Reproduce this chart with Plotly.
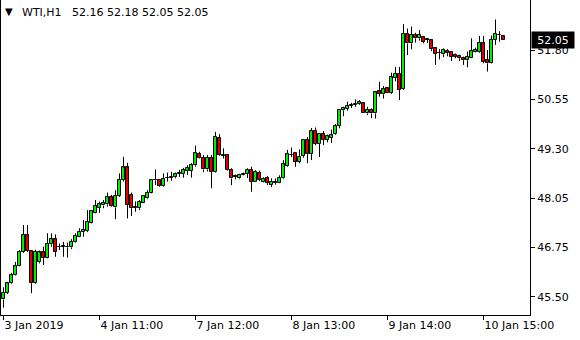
import plotly.graph_objects as go

# OHLC data (H1 bars)
opens = [45.43,45.60,45.84,46.05,46.28,46.65,47.08,46.67,45.84,46.38,
         46.63,46.50,46.84,46.97,46.77,46.78,46.77,46.76,46.90,47.03,
         47.15,47.19,47.39,47.65,47.77,47.83,47.86,48.04,47.78,48.07,
         48.48,48.80,48.10,47.78,47.76,47.90,48.01,48.16,48.47,48.48,
         48.33,48.53,48.54,48.55,48.64,48.63,48.72,48.72,48.86,49.14,
         49.05,48.75,49.05,48.69,49.55,49.11,49.12,48.74,48.57,48.52,
         48.62,48.63,48.74,48.44,48.67,48.44,48.54,48.35,48.41,48.41,
         48.52,48.85,49.12,49.16,48.95,49.09,49.50,49.14,49.73,49.40,
         49.65,49.50,49.56,49.65,49.86,50.26,50.29,50.38,50.40,50.42,
         50.44,50.18,50.28,50.18,50.76,50.67,50.82,50.71,51.09,51.20,
         50.80,52.21,51.97,52.18,52.10,52.14,52.07,52.05,51.84,51.73,
         51.69,51.78,51.76,51.67,51.64,51.60,51.54,51.60,51.76,51.76,
         51.99,51.54,51.46,52.06,52.18,52.16]
highs = [45.74,45.88,46.11,46.39,46.69,47.33,47.33,46.67,46.70,46.68,
         46.78,47.12,47.12,47.09,46.86,46.90,46.88,46.97,47.12,47.25,
         47.46,47.71,47.71,47.97,47.93,47.97,48.16,48.10,48.22,48.65,
         49.07,48.92,48.16,47.93,47.97,48.10,48.22,48.50,48.75,48.50,
         48.65,48.67,48.69,48.67,48.74,48.79,48.86,48.91,49.36,49.20,
         49.12,49.12,49.12,49.71,49.65,49.29,49.14,48.78,48.62,48.64,
         48.67,48.78,48.82,48.73,48.72,48.55,48.58,48.52,48.52,48.60,
         48.99,49.25,49.31,49.17,49.26,49.52,49.58,49.81,49.82,49.65,
         49.73,49.64,49.77,49.91,50.29,50.35,50.48,50.45,50.54,50.52,
         50.45,50.35,50.31,50.74,50.99,50.88,50.85,51.22,51.37,51.37,
         52.46,52.35,52.40,52.24,52.31,52.16,52.08,52.06,51.84,51.82,
         51.84,51.82,51.76,51.71,51.68,51.63,51.76,52.10,51.86,52.16,
         52.16,51.80,52.17,52.58,52.28,52.18]
lows = [45.22,45.57,45.82,46.04,46.27,46.62,46.64,45.59,45.82,46.35,
        46.31,46.48,46.78,46.52,46.69,46.52,46.50,46.72,46.88,47.02,
        47.03,47.15,47.37,47.63,47.64,47.76,47.80,47.80,47.48,48.05,
        48.44,47.50,47.56,47.67,47.71,47.89,47.99,48.14,48.35,48.31,
        48.31,48.44,48.46,48.52,48.56,48.54,48.61,48.54,48.82,49.02,
        48.68,48.70,48.27,48.67,49.10,49.03,48.72,48.35,48.50,48.50,
        48.60,48.53,48.18,48.43,48.45,48.42,48.35,48.30,48.36,48.40,
        48.50,48.82,49.07,48.82,48.91,49.05,48.91,48.99,49.37,49.07,
        49.37,49.44,49.43,49.63,49.80,50.11,50.25,50.32,50.35,50.40,
        50.19,50.14,50.06,50.05,50.61,50.56,50.70,50.68,51.00,50.52,
        50.78,51.67,51.82,51.99,52.04,51.97,51.98,51.77,51.42,51.56,
        51.62,51.64,51.52,51.59,51.52,51.42,51.36,51.59,51.74,51.73,
        51.46,51.25,51.45,51.93,52.01,52.05]
closes = [45.60,45.84,46.05,46.28,46.65,47.08,46.68,45.86,46.65,46.63,
          46.50,46.85,46.97,46.65,46.78,46.79,46.76,46.90,47.05,47.16,
          47.20,47.41,47.69,47.82,47.86,47.89,48.04,47.82,48.07,48.48,
          48.80,47.84,47.76,47.77,47.93,48.07,48.16,48.48,48.49,48.33,
          48.51,48.54,48.55,48.63,48.65,48.74,48.78,48.86,49.16,49.03,
          48.75,49.05,48.69,49.59,49.12,49.10,48.74,48.52,48.56,48.61,
          48.63,48.74,48.44,48.69,48.48,48.51,48.40,48.44,48.42,48.53,
          48.88,49.14,49.13,48.95,49.07,49.50,49.14,49.73,49.40,49.65,
          49.50,49.60,49.62,49.86,50.27,50.33,50.37,50.40,50.42,50.47,
          50.20,50.28,50.18,50.72,50.68,50.80,50.71,51.10,51.20,50.78,
          52.21,51.97,52.18,52.10,52.18,52.01,52.06,51.82,51.71,51.72,
          51.80,51.72,51.63,51.63,51.59,51.54,51.63,51.77,51.80,51.99,
          51.50,51.46,52.06,52.21,52.19,52.05]

tick_idx = [0, 24, 48, 72, 96, 120]
tick_labels = ["3 Jan 2019", "4 Jan 11:00", "7 Jan 12:00", "8 Jan 13:00", "9 Jan 14:00", "10 Jan 15:00"]
price_ticks = [45.50, 46.76, 48.02, 49.28, 50.54, 51.80]
price_labels = ["45.50", "46.75", "48.05", "49.30", "50.55", "51.80"]
symbol = "WTI,H1"
last_price = 52.05

UP = "#00ee00"
DOWN = "#e00000"
FONT = "DejaVu Sans"

n = len(opens)
xs = list(range(n))

# wicks split into upper / lower parts so they don't cross the bodies
wx, wy = [], []
for i in xs:
    top = max(opens[i], closes[i])
    bot = min(opens[i], closes[i])
    wx += [i, i, None, i, i, None]
    wy += [highs[i], top, None, bot, lows[i], None]

base = [min(o, c) for o, c in zip(opens, closes)]
height = [max(abs(c - o), 0.006) for o, c in zip(opens, closes)]
colors = [UP if c >= o else DOWN for o, c in zip(opens, closes)]

fig = go.Figure()
fig.add_trace(go.Scatter(x=wx, y=wy, mode="lines",
                         line=dict(color="black", width=1),
                         hoverinfo="skip", showlegend=False))
fig.add_trace(go.Bar(x=xs, y=height, base=base, width=0.58,
                     marker=dict(color=colors, line=dict(color="black", width=1)),
                     hoverinfo="skip", showlegend=False))

fig.update_layout(
    width=580, height=340,
    margin=dict(l=1, r=50, t=0, b=25),
    paper_bgcolor="white", plot_bgcolor="white",
    bargap=0, showlegend=False,
    font=dict(family=FONT, size=11, color="black"),
    xaxis=dict(range=[-0.625, 131.625], showgrid=False, zeroline=False,
               showline=True, linecolor="black", linewidth=1,
               ticks="outside", ticklen=4, tickcolor="black",
               tickvals=tick_idx, ticktext=tick_labels,
               ticklabelposition="outside right",
               tickfont=dict(family=FONT, size=11, color="black"),
               fixedrange=True),
    yaxis=dict(range=[45.033, 53.077], side="right", showgrid=False, zeroline=False,
               showline=True, mirror=True, linecolor="black", linewidth=1,
               ticks="outside", ticklen=4, tickcolor="black",
               tickvals=price_ticks, ticktext=price_labels,
               tickfont=dict(family=FONT, size=11, color="black"),
               fixedrange=True),
    annotations=[
        dict(xref="paper", yref="paper", x=0, y=1, xanchor="left", yanchor="middle",
             xshift=2, yshift=-11, text="▼", showarrow=False,
             font=dict(family=FONT, size=10, color="black")),
        dict(xref="paper", yref="paper", x=0, y=1, xanchor="left", yanchor="middle",
             xshift=19, yshift=-12, text=symbol, showarrow=False,
             font=dict(family=FONT, size=11, color="black")),
        dict(xref="paper", yref="paper", x=0, y=1, xanchor="left", yanchor="middle",
             xshift=69, yshift=-12,
             text=f"{opens[-1]:.2f} {highs[-1]:.2f} {lows[-1]:.2f} {closes[-1]:.2f}",
             showarrow=False, font=dict(family=FONT, size=11, color="black")),
        dict(xref="paper", yref="y", x=1, y=last_price, xanchor="left", yanchor="middle",
             xshift=1, text=f"{last_price:.2f}", showarrow=False,
             bgcolor="black", borderpad=1, width=40, height=14,
             font=dict(family=FONT, size=11, color="white")),
    ],
)

fig.write_html("out.html")
